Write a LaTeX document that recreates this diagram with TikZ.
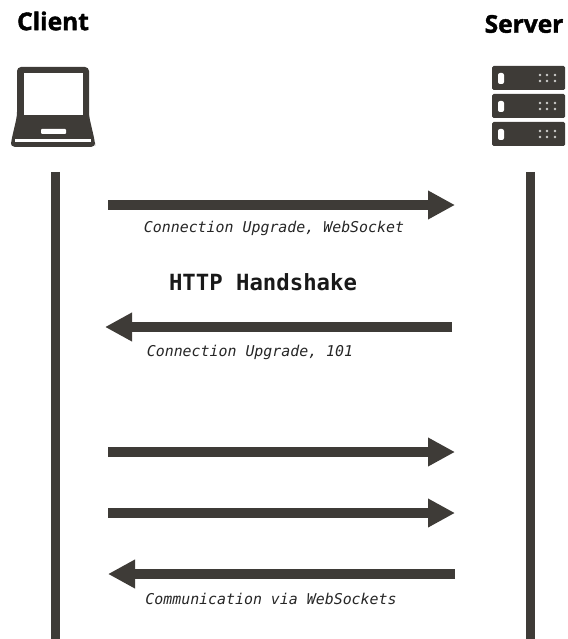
\documentclass[tikz,border=0pt]{standalone}
\usepackage{fontspec}
\setmainfont{Open Sans}
\newfontfamily\monof{DejaVu Sans Mono}
\newfontfamily\headf[BoldFeatures={FakeBold=1.6}]{Open Sans}
\usetikzlibrary{arrows.meta}
\definecolor{ink}{HTML}{3E3B37}
\tikzset{
  head/.style={font=\headf\fontsize{24.5}{25}\selectfont\bfseries, text=black, inner sep=0pt},
  lbl/.style={font=\monof\itshape\fontsize{14.9}{15}\selectfont, text=black!85, inner sep=0pt},
  title/.style={font=\monof\bfseries\fontsize{22.3}{23}\selectfont, text=black!90, inner sep=0pt},
  life/.style={draw=ink, line width=9pt},
  msg/.style={draw=ink, line width=10pt, -{Triangle[length=27pt,width=27pt]}},
}
\begin{document}
\begin{tikzpicture}[x=1pt,y=-1pt]
\useasboundingbox (0,0) rectangle (567,639);
\node[head] (client) at (53,21) {Client};
\node[head] (server) at (524,24) {Server};
% laptop
\fill[ink,rounded corners=4pt] (17,67) -- (89,67) -- (89,116) -- (95,142) -- (95,147) -- (11,147) -- (11,142) -- (17,116) -- cycle;
\fill[white] (24,73) rectangle (83,115);
\fill[white,rounded corners=1pt] (41,129) rectangle (66,134);
\fill[white] (15,139) rectangle (91,142);
% server
\foreach \y in {66,94,122}{
  \fill[ink,rounded corners=1.5pt] (492,\y) rectangle (565,\y+24);
  \fill[white,rounded corners=2pt] (498,\y+7) rectangle (504,\y+18);
  \foreach \cx in {540,547,555}{
    \foreach \cy in {9,15}{
      \fill[white!75!ink] (\cx,\y+\cy) circle (1.3pt);
    }
  }
}
% lifelines
\coordinate (cl0) at (55,172); \coordinate (cl1) at (55,639);
\coordinate (sl0) at (530,172); \coordinate (sl1) at (530,639);
\draw[life] (cl0) -- (cl1);
\draw[life] (sl0) -- (sl1);
% messages
\coordinate (a1) at (108,205); \coordinate (b1) at (455,205);
\coordinate (a2) at (452,327); \coordinate (b2) at (105,327);
\coordinate (a3) at (108,452); \coordinate (b3) at (455,452);
\coordinate (a4) at (108,513); \coordinate (b4) at (455,513);
\coordinate (a5) at (455,574); \coordinate (b5) at (108,574);
\draw[msg] (a1) -- (b1);
\draw[msg] (a2) -- (b2);
\draw[msg] (a3) -- (b3);
\draw[msg] (a4) -- (b4);
\draw[msg] (a5) -- (b5);
\node[lbl] (l1) at (274,228) {Connection Upgrade, WebSocket};
\node[title] (t) at (263,282) {HTTP Handshake};
\node[lbl] (l2) at (250,352) {Connection Upgrade, 101};
\node[lbl] (l3) at (271,599) {Communication via WebSockets};
\end{tikzpicture}
\end{document}
